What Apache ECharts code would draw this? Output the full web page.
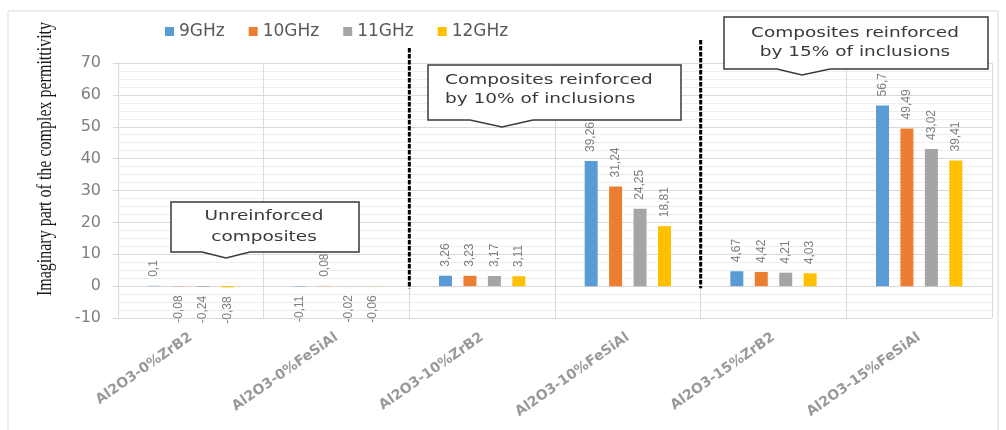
<!DOCTYPE html>
<html>
<head>
<meta charset="utf-8">
<script src="https://cdn.jsdelivr.net/npm/echarts@6/dist/echarts.min.js"></script>
<style>
html,body{margin:0;padding:0;background:#fff;}
#chart{width:1006px;height:430px;}
</style>
</head>
<body>
<div id="chart"></div>
<script>
var categories = ['Al2O3-0%ZrB2','Al2O3-0%FeSiAl','Al2O3-10%ZrB2','Al2O3-10%FeSiAl','Al2O3-15%ZrB2','Al2O3-15%FeSiAl'];
var seriesNames = ['9GHz','10GHz','11GHz','12GHz'];
var colors = ['#5B9BD5','#ED7D31','#A5A5A5','#FFC000'];
var s9GHz  = [0.1, -0.11, 3.26, 39.26, 4.67, 56.7];
var s10GHz = [-0.08, 0.08, 3.23, 31.24, 4.42, 49.49];
var s11GHz = [-0.24, -0.02, 3.17, 24.25, 4.21, 43.02];
var s12GHz = [-0.38, -0.06, 3.11, 18.81, 4.03, 39.41];
var yTicks = [-10, 0, 10, 20, 30, 40, 50, 60, 70];
var yTitle = 'Imaginary part of the complex permittivity';
var callouts = [
  ['Unreinforced', 'composites'],
  ['Composites reinforced', 'by 10% of inclusions'],
  ['Composites reinforced', 'by 15% of inclusions']
];

var allSeries = [s9GHz, s10GHz, s11GHz, s12GHz];
var chart = echarts.init(document.getElementById('chart'), null, {renderer:'canvas'});

var labelFont = "'Liberation Sans',sans-serif";
function fmt(v){ return String(v).replace('.', ','); }

var series = allSeries.map(function(arr, i){
  return {
    name: seriesNames[i],
    type: 'bar',
    barWidth: 13,
    barGap: '88%',
    itemStyle: {color: colors[i]},
    data: arr.map(function(v){
      var neg = v < 0;
      return {
        value: v,
        label: {
          show: true,
          position: neg ? 'bottom' : 'top',
          rotate: 90,
          align: neg ? 'right' : 'left',
          verticalAlign: 'middle',
          distance: 9,
          color: '#7f7f7f',
          fontSize: 12,
          fontFamily: labelFont,
          formatter: function(p){ return fmt(p.value); }
        }
      };
    })
  };
});

var option = {
  animation: false,
  backgroundColor: '#fff',
  color: colors,
  legend: {
    data: seriesNames,
    left: 160,
    top: 18,
    itemWidth: 9,
    itemHeight: 9,
    itemGap: 24,
    icon: 'rect',
    textStyle: {color: '#595959', fontSize: 17, fontFamily: "'DejaVu Sans',sans-serif"}
  },
  grid: {left: 118, right: 14, top: 63, bottom: 112, containLabel: false},
  xAxis: {
    type: 'category',
    data: categories,
    axisLine: {show: false},
    axisTick: {show: false},
    splitLine: {show: true, lineStyle: {color: '#d9d9d9', width: 1}},
    axisLabel: {
      interval: 0,
      rotate: 35,
      margin: 18,
      color: '#999999',
      fontSize: 14,
      fontWeight: 'bold',
      fontFamily: "'DejaVu Sans',sans-serif"
    }
  },
  yAxis: {
    type: 'value',
    min: yTicks[0],
    max: yTicks[yTicks.length-1],
    interval: 10,
    axisLine: {show: true, lineStyle: {color: '#d9d9d9'}},
    axisTick: {show: true, length: 5, lineStyle: {color: '#d9d9d9'}},
    splitLine: {show: true, lineStyle: {color: '#d9d9d9'}},
    minorTick: {show: false, splitNumber: 4},
    minorSplitLine: {show: true, lineStyle: {color: '#eeeeee'}},
    axisLabel: {
      margin: 17,
      color: '#7f7f7f',
      fontSize: 16,
      fontFamily: "'DejaVu Sans',sans-serif",
      formatter: function(v){ return String(v); }
    }
  },
  series: series
};
chart.setOption(option);

// annotations
function calloutShape(L, T, R, B, pl, pr, tx, ty){
  return {
    type: 'polygon',
    shape: {points: [[L,T],[R,T],[R,B],[pr,B],[tx,ty],[pl,B],[L,B]]},
    style: {fill: '#fff', stroke: '#3a3a3a', lineWidth: 1.5},
    z: 100
  };
}
var textFont = "'DejaVu Sans',sans-serif";
function txt(x, y, s, align){
  return {type:'text', x:x, y:y, z:101, scaleX:1.32, scaleY:1,
    style:{text:s, fill:'#3a3a3a', font:'14px ' + textFont, textAlign:align, textVerticalAlign:'middle'}};
}

var xb1 = (chart.convertToPixel({xAxisIndex:0}, categories[1]) + chart.convertToPixel({xAxisIndex:0}, categories[2]))/2;
var xb2 = (chart.convertToPixel({xAxisIndex:0}, categories[3]) + chart.convertToPixel({xAxisIndex:0}, categories[4]))/2;
var y0 = chart.convertToPixel({yAxisIndex:0}, 0);

var graphics = [
  {type:'rect', shape:{x:8, y:11, width:990, height:440}, style:{fill:'none', stroke:'#d9d9d9', lineWidth:1}, z:-1, silent:true},
  {type:'text', x:45, y:159, rotation:Math.PI/2, scaleY:1.35, z:50,
    style:{text:yTitle, fill:'#1a1a1a', font:'16px "Liberation Serif",serif', textAlign:'center', textVerticalAlign:'middle'}},
  {type:'line', shape:{x1:xb1, y1:48, x2:xb1, y2:y0+2}, style:{stroke:'#000', lineWidth:3, lineDash:[4.5,1.5]}, z:60},
  {type:'line', shape:{x1:xb2, y1:40, x2:xb2, y2:y0+2}, style:{stroke:'#000', lineWidth:3, lineDash:[4.5,1.5]}, z:60},
  calloutShape(171, 202, 359, 252, 202, 250, 226, 258),
  txt(264, 216, callouts[0][0], 'center'),
  txt(264, 237, callouts[0][1], 'center'),
  calloutShape(428, 65, 681, 120, 470, 533, 502, 127),
  txt(445, 80, callouts[1][0], 'left'),
  txt(445, 99, callouts[1][1], 'left'),
  calloutShape(724, 17, 988, 69, 777, 830, 802, 75),
  txt(855, 33, callouts[2][0], 'center'),
  txt(855, 52, callouts[2][1], 'center')
];
chart.setOption({graphic: graphics});
</script>
</body>
</html>
